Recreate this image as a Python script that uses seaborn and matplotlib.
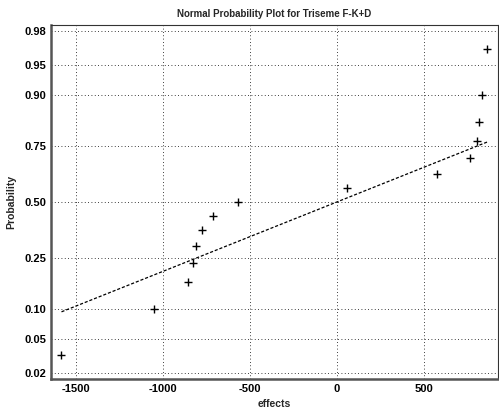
#!/usr/bin/env python3
"""Normal probability plot of effects for Triseme F-K+D."""

from statistics import NormalDist

import numpy as np
import pandas as pd
import matplotlib
matplotlib.use("Agg")
import matplotlib.pyplot as plt
import seaborn as sns

# effects, sorted
effects = [-1585, -1052, -856, -828, -810, -776, -713, -569,
           57, 575, 764, 805, 816, 833, 867]
# plotting positions (i - 0.5) / n
probs = [0.033, 0.100, 0.167, 0.233, 0.300, 0.367, 0.433, 0.500,
         0.567, 0.633, 0.700, 0.767, 0.833, 0.900, 0.967]

# reference line through the quartiles
fit_mu = 0.0
fit_sigma = 1200.0

ytick_probs = [0.02, 0.05, 0.10, 0.25, 0.50, 0.75, 0.90, 0.95, 0.98]
ytick_labels = ['0.02', '0.05', '0.10', '0.25', '0.50', '0.75', '0.90', '0.95', '0.98']
xticks = [-1500, -1000, -500, 0, 500]

nd = NormalDist()
q = nd.inv_cdf

sns.set_style("white")
plt.rcParams['font.family'] = ['Liberation Sans', 'DejaVu Sans']
plt.rcParams['axes.unicode_minus'] = False

fig = plt.figure(figsize=(4.99, 4.11), dpi=100)
ax = fig.add_axes([0.102, 0.078, 0.896, 0.861])

df = pd.DataFrame({'effects': effects, 'z': [q(p) for p in probs]})

line_x = np.array([min(effects), max(effects)], dtype=float)
line_df = pd.DataFrame({'x': line_x, 'z': (line_x - fit_mu) / fit_sigma})
sns.lineplot(data=line_df, x='x', y='z', ax=ax, color='black',
             linewidth=0.9, dashes=False, linestyle=(0, (2.5, 1.5)))

sns.scatterplot(data=df, x='effects', y='z', ax=ax, marker='+', s=38,
                color='black', linewidth=1.0)

n = len(effects)
ax.set_ylim(q(0.25 / n), q(1 - 0.25 / n))
ax.set_xlim(-1646, 928)
ax.set_yticks([q(p) for p in ytick_probs])
ax.set_yticklabels(ytick_labels)
ax.set_xticks(xticks)

ax.grid(True, color='black', linestyle=(0, (1, 3)), linewidth=0.6)
ax.tick_params(direction='in', length=4, labelsize=8, width=1.0,
               colors='black')
for lab in ax.get_xticklabels() + ax.get_yticklabels():
    lab.set_fontweight('bold')

for side in ['left', 'bottom']:
    ax.spines[side].set_linewidth(1.8)
    ax.spines[side].set_color('#555555')
for side in ['top', 'right']:
    ax.spines[side].set_linewidth(0.8)
    ax.spines[side].set_color('#333333')

ax.set_xlabel('effects', fontsize=7.5, fontweight='bold', labelpad=4)
ax.set_ylabel('Probability', fontsize=7.5, fontweight='bold', labelpad=6)
ax.set_title('Normal Probability Plot for Triseme F-K+D', fontsize=7,
             fontweight='bold', pad=6)

fig.savefig('out.png', dpi=100)
